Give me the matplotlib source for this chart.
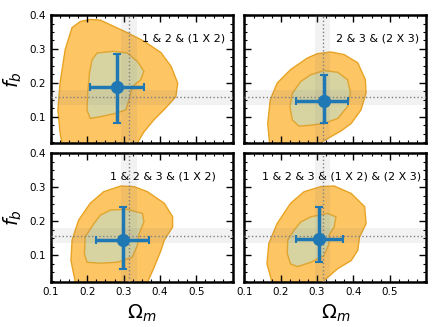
import matplotlib as mpl
mpl.use('Agg')
import matplotlib.pyplot as plt
from matplotlib.ticker import MultipleLocator, AutoMinorLocator
import numpy as np

# reference values (crosshair + band)
om_ref, om_band = 0.315, 0.021
fb_ref, fb_band = 0.157, 0.022

labels = ['1 & 2 & (1 X 2)',
          '2 & 3 & (2 X 3)',
          '1 & 2 & 3 & (1 X 2)',
          '1 & 2 & 3 & (1 X 2) & (2 X 3)']

# outer (95%) contour outlines, (Omega_m, f_b)
outer_om = [
    [0.208, 0.236, 0.272, 0.310, 0.356, 0.403, 0.431, 0.449, 0.444, 0.411, 0.383, 0.356, 0.338, 0.330,
     0.175, 0.130, 0.125, 0.119, 0.125, 0.139, 0.158, 0.181],
    [0.338, 0.375, 0.412, 0.433, 0.435, 0.421, 0.394, 0.366, 0.338, 0.310, 0.300,
     0.170, 0.169, 0.164, 0.171, 0.190, 0.227, 0.273, 0.301],
    [0.292, 0.329, 0.366, 0.412, 0.435, 0.435, 0.412, 0.403, 0.384, 0.366, 0.360,
     0.170, 0.167, 0.155, 0.158, 0.176, 0.208, 0.245],
    [0.310, 0.347, 0.394, 0.431, 0.435, 0.417, 0.412, 0.394, 0.357, 0.319, 0.310,
     0.178, 0.176, 0.162, 0.167, 0.190, 0.227, 0.264],
]
outer_fb = [
    [0.387, 0.385, 0.367, 0.348, 0.323, 0.289, 0.248, 0.199, 0.159, 0.120, 0.090, 0.055, 0.023, 0.0,
     0.0, 0.023, 0.052, 0.120, 0.200, 0.298, 0.363, 0.381],
    [0.291, 0.283, 0.259, 0.209, 0.170, 0.120, 0.080, 0.058, 0.041, 0.023, 0.0,
     0.0, 0.023, 0.080, 0.150, 0.199, 0.239, 0.273, 0.286],
    [0.304, 0.302, 0.287, 0.253, 0.213, 0.183, 0.144, 0.114, 0.064, 0.020, 0.0,
     0.0, 0.020, 0.084, 0.144, 0.203, 0.253, 0.287],
    [0.302, 0.304, 0.282, 0.243, 0.193, 0.153, 0.114, 0.084, 0.060, 0.025, 0.0,
     0.0, 0.020, 0.074, 0.134, 0.193, 0.253, 0.287],
]

# inner (68%) contour outlines
inner_om = [
    [0.227, 0.272, 0.310, 0.338, 0.356, 0.347, 0.324, 0.315, 0.306, 0.278, 0.236, 0.208, 0.199, 0.201, 0.206, 0.213],
    [0.319, 0.357, 0.384, 0.392, 0.384, 0.357, 0.319, 0.283, 0.250, 0.232, 0.225, 0.232, 0.255, 0.283],
    [0.264, 0.310, 0.352, 0.356, 0.343, 0.338, 0.324, 0.283, 0.236, 0.199, 0.192, 0.194, 0.218, 0.236],
    [0.283, 0.329, 0.352, 0.347, 0.333, 0.333, 0.319, 0.283, 0.246, 0.227, 0.218, 0.219, 0.236, 0.255],
]
inner_fb = [
    [0.288, 0.293, 0.288, 0.263, 0.234, 0.209, 0.189, 0.150, 0.120, 0.110, 0.100, 0.095, 0.120, 0.169, 0.229, 0.268],
    [0.236, 0.231, 0.209, 0.170, 0.130, 0.095, 0.080, 0.075, 0.072, 0.090, 0.130, 0.169, 0.204, 0.224],
    [0.233, 0.235, 0.223, 0.198, 0.164, 0.129, 0.094, 0.079, 0.076, 0.079, 0.104, 0.153, 0.193, 0.218],
    [0.213, 0.223, 0.213, 0.183, 0.159, 0.134, 0.099, 0.079, 0.066, 0.074, 0.104, 0.144, 0.173, 0.198],
]

# best fit and asymmetric errors
best_om = [0.281, 0.319, 0.298, 0.304]
best_fb = [0.187, 0.145, 0.146, 0.147]
om_lo = [0.073, 0.076, 0.074, 0.061]
om_hi = [0.074, 0.067, 0.071, 0.067]
fb_lo = [0.105, 0.065, 0.086, 0.068]
fb_hi = [0.098, 0.079, 0.097, 0.094]

text_x = [0.962, 0.962, 0.906, 0.976]

fig, axes = plt.subplots(2, 2, figsize=(4.36, 3.27), dpi=100, sharex=True, sharey=True)
plt.subplots_adjust(left=0.117, right=0.977, top=0.954, bottom=0.138, wspace=0.066, hspace=0.078)

for k, ax in enumerate(axes.flat):
    ax.fill(outer_om[k], outer_fb[k], facecolor='#fdc563', edgecolor='#e8a323', lw=1.0, zorder=1)
    ax.fill(inner_om[k], inner_fb[k], facecolor='#d7d4a2', edgecolor='#e0a530', lw=1.0, zorder=2)

    # reference bands and lines
    ax.axvspan(om_ref - om_band, om_ref + om_band, color='gray', alpha=0.1, lw=0, zorder=3)
    ax.axhspan(fb_ref - fb_band, fb_ref + fb_band, color='gray', alpha=0.1, lw=0, zorder=3)
    ax.axvline(om_ref, color='gray', ls=':', lw=1.0, zorder=4)
    ax.axhline(fb_ref, color='gray', ls=':', lw=1.0, zorder=4)

    ax.errorbar(best_om[k], best_fb[k],
                xerr=[[om_lo[k]], [om_hi[k]]], yerr=[[fb_lo[k]], [fb_hi[k]]],
                fmt='o', color='#1f77b4', ms=8.5, lw=2.5, capsize=3, capthick=1.5, zorder=5)

    ax.text(text_x[k], 0.82, labels[k], transform=ax.transAxes, ha='right', va='center', fontsize=8)

    ax.set_xlim(0.1, 0.6)
    ax.set_ylim(0.021, 0.4)
    ax.xaxis.set_major_locator(MultipleLocator(0.1))
    ax.yaxis.set_major_locator(MultipleLocator(0.1))
    ax.xaxis.set_minor_locator(AutoMinorLocator(4))
    ax.yaxis.set_minor_locator(AutoMinorLocator(4))
    ax.tick_params(which='both', direction='in', top=True, right=True, labelsize=7.5)
    ax.tick_params(which='major', length=5, width=1)
    ax.tick_params(which='minor', length=2.5, width=0.8)
    for sp in ax.spines.values():
        sp.set_linewidth(1.8)

axes[1, 0].set_xticks([0.1, 0.2, 0.3, 0.4, 0.5])
for ax in axes[1]:
    ax.set_xlabel(r'$\Omega_m$', fontsize=14)
for ax in axes[:, 0]:
    ax.set_ylabel(r'$f_b$', fontsize=14)

fig.savefig('out.png', dpi=100)
